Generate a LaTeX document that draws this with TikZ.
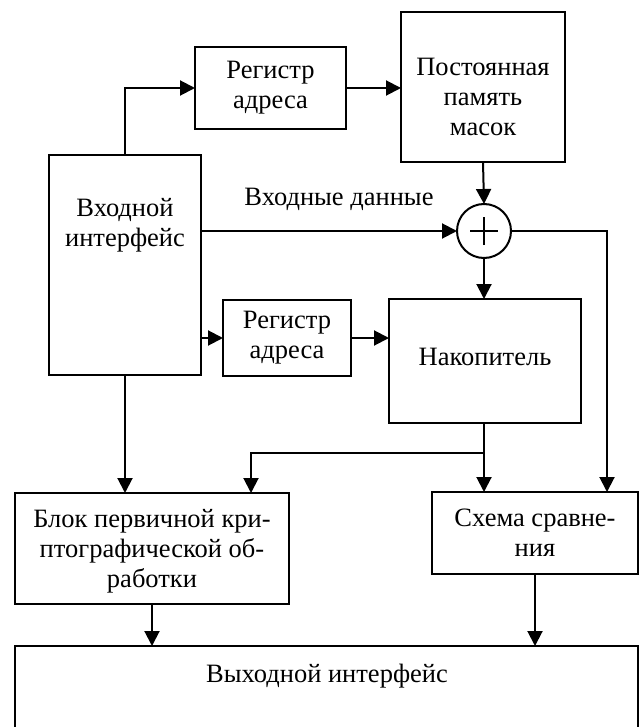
\documentclass[tikz,border=0pt]{standalone}
\usepackage{fontspec}
\setmainfont{Liberation Serif}
\usetikzlibrary{arrows.meta}
\begin{document}
\begin{tikzpicture}[x=1pt,y=-1pt,
  font=\fontsize{26.5}{30}\selectfont,
  blk/.style={draw,line width=2pt,rectangle,inner sep=0pt,outer sep=0pt,align=center},
  txt/.style={inner sep=0pt,align=center},
  arr/.style={line width=2pt,-{Triangle[length=15pt,width=15pt]}},
  ln/.style={line width=2pt}]
\useasboundingbox (0,0) rectangle (644,727);
\clip (0,0) rectangle (644,727);
% blocks
\node[blk,minimum width=152pt,minimum height=220pt] (vkh) at (125,265) {};
\node[txt] (vkhtxt) at (125,225) {Входной\\интерфейс};
\node[blk,minimum width=151pt,minimum height=82pt] (reg1) at (270.5,88) {Регистр\\адреса};
\node[blk,minimum width=164pt,minimum height=150pt] (posto) at (483,87) {};
\node[txt] (postotxt) at (483,97) {Постоянная\\память\\масок};
\node[draw,circle,line width=2pt,minimum size=54pt,inner sep=0pt,outer sep=0pt] (xor) at (484,231) {};
\draw[ln] ([xshift=-14pt]xor.center) -- ([xshift=14pt]xor.center)
          ([yshift=-14pt]xor.center) -- ([yshift=14pt]xor.center);
\node[txt] (vdata) at (339,199) {Входные данные};
\node[blk,minimum width=128pt,minimum height=76pt] (reg2) at (287,338) {Регистр\\адреса};
\node[blk,minimum width=192pt,minimum height=124pt] (nak) at (485,361) {};
\node[txt] (naktxt) at (485,357) {Накопитель};
\node[blk,minimum width=274pt,minimum height=111pt] (blok) at (152,548.5) {};
\node[txt] (bloktxt) at (152,551) {Блок первичной кри-\\птографической об-\\работки};
\node[blk,minimum width=206pt,minimum height=82pt] (skh) at (535,533) {Схема сравне-\\ния};
\node[blk,minimum width=623pt,minimum height=100pt] (vyh) at (326.5,696) {};
\node[txt] (vyhtxt) at (327,676) {Выходной интерфейс};
% helper coordinates
\coordinate (rtop) at (607,231);
\coordinate (jn) at (484,453);
\coordinate (bl) at (251,453);
% connectors
\draw[arr] (vkh.north) |- (reg1.west);
\draw[arr] (reg1.east) -- (reg1.east -| posto.west);
\draw[arr] (posto.south) -- (xor.north);
\draw[arr] (xor.west -| vkh.east) -- (xor.west);
\draw[arr] (xor.south) -- (xor.south |- nak.north);
\draw[arr] (xor.east) -- (rtop) -- (rtop |- skh.north);
\draw[arr] (reg2.west -| vkh.east) -- (reg2.west);
\draw[arr] (reg2.east) -- (reg2.east -| nak.west);
\draw[arr] (jn |- nak.south) -- (jn |- skh.north);
\draw[arr] (jn) -- (bl) -- (bl |- blok.north);
\draw[arr] (vkh.south) -- (vkh.south |- blok.north);
\draw[arr] (blok.south) -- (blok.south |- vyh.north);
\draw[arr] (skh.south) -- (skh.south |- vyh.north);
\end{tikzpicture}
\end{document}
